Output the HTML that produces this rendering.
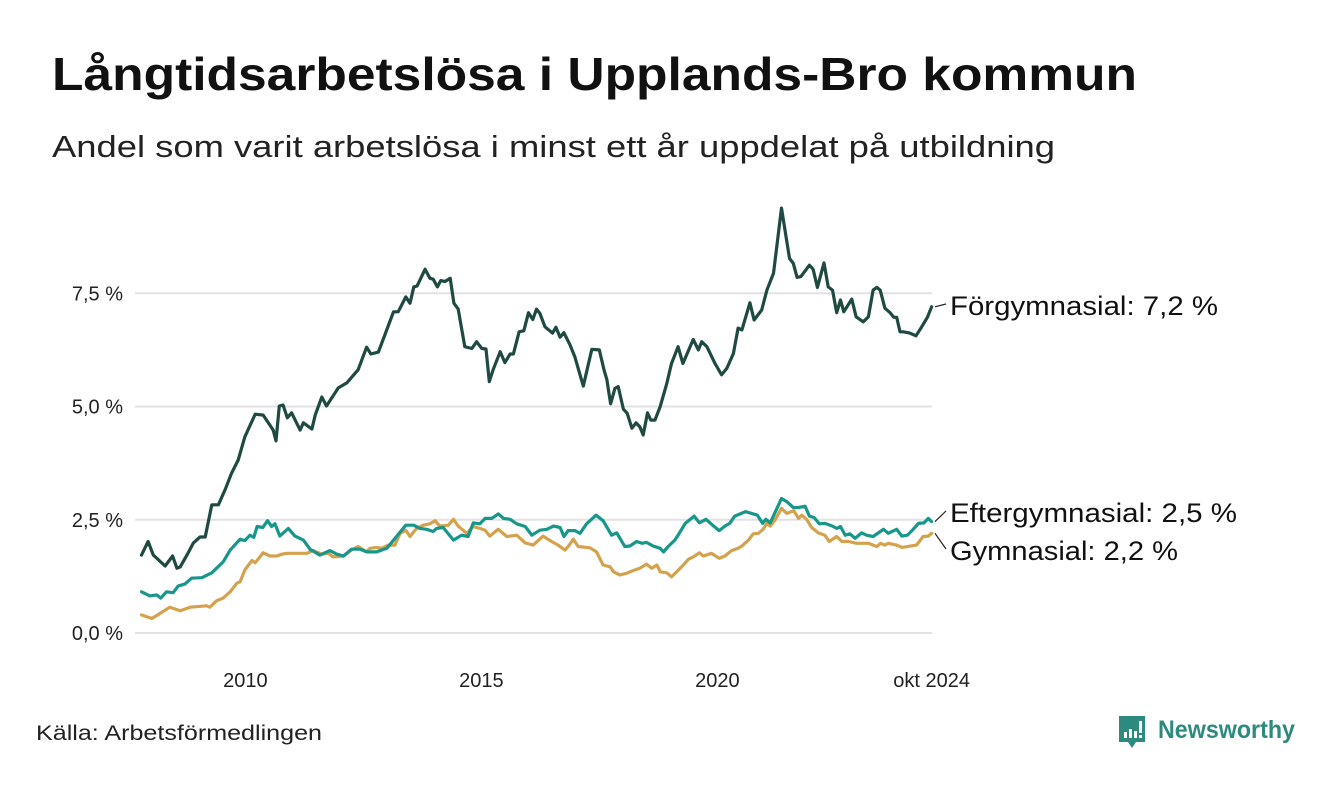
<!DOCTYPE html>
<html><head><meta charset="utf-8">
<style>
html,body{margin:0;padding:0;background:#fff;}
body{width:1340px;height:780px;overflow:hidden;font-family:"Liberation Sans",sans-serif;color:#111;}
</style></head>
<body>
<svg id="chart" width="1340" height="780" xmlns="http://www.w3.org/2000/svg">
<text x="52" y="90" font-size="46" font-weight="bold" fill="#111" textLength="1085" lengthAdjust="spacingAndGlyphs" font-family="Liberation Sans, sans-serif">Långtidsarbetslösa i Upplands-Bro kommun</text>
<text x="52" y="157" font-size="31" fill="#222" textLength="1003" lengthAdjust="spacingAndGlyphs" font-family="Liberation Sans, sans-serif">Andel som varit arbetslösa i minst ett år uppdelat på utbildning</text>
<g id="grid"></g>
<g id="yticks"></g>
<g id="xticks"></g>
<g id="series"></g>
<g id="labels"></g>
<text x="36" y="740" font-size="21" fill="#222" textLength="286" lengthAdjust="spacingAndGlyphs" font-family="Liberation Sans, sans-serif">Källa: Arbetsförmedlingen</text>
<g>
<path d="M1119 716 h26 v26 h-9 l-4 6 l-4 -6 h-9 z" fill="#2d8a7e"/>
<rect x="1124" y="732" width="3" height="6" fill="#fff"/>
<rect x="1129" y="729" width="3" height="9" fill="#fff"/>
<rect x="1134" y="731" width="3" height="7" fill="#fff"/>
<rect x="1139" y="721" width="3" height="12" fill="#fff"/>
<rect x="1139" y="735" width="3" height="3" fill="#fff"/>
<text x="1158" y="738" font-size="25" font-weight="bold" fill="#2d8a7e" textLength="137" lengthAdjust="spacingAndGlyphs" font-family="Liberation Sans, sans-serif">Newsworthy</text>
</g>
</svg>
<script>
const yTicks = [0, 2.5, 5, 7.5];
const yTickLabels = ["0,0 %", "2,5 %", "5,0 %", "7,5 %"];
const xTicks = [2010, 2015, 2020, 2024.75];
const xTickLabels = ["2010", "2015", "2020", "okt 2024"];

const forgymYears = [2008.01,2008.15,2008.26,2008.51,2008.67,2008.76,2008.83,2009.00,2009.11,2009.25,2009.36,2009.50,2009.64,2009.78,2009.92,2010.06,2010.20,2010.42,2010.59,2010.73,2010.80,2010.86,2010.93,2011.01,2011.10,2011.19,2011.37,2011.44,2011.62,2011.69,2011.83,2011.93,2012.18,2012.36,2012.60,2012.78,2012.87,2013.03,2013.35,2013.45,2013.61,2013.70,2013.78,2013.85,2014.02,2014.12,2014.19,2014.28,2014.35,2014.44,2014.55,2014.63,2014.72,2014.86,2015.01,2015.11,2015.22,2015.31,2015.38,2015.46,2015.61,2015.71,2015.82,2015.89,2016.01,2016.11,2016.21,2016.30,2016.38,2016.45,2016.56,2016.72,2016.79,2016.88,2016.96,2017.09,2017.19,2017.37,2017.55,2017.71,2017.81,2017.87,2017.95,2018.04,2018.11,2018.22,2018.30,2018.40,2018.49,2018.57,2018.64,2018.73,2018.80,2018.89,2019.00,2019.14,2019.24,2019.38,2019.48,2019.70,2019.81,2019.88,2019.99,2020.16,2020.30,2020.41,2020.55,2020.65,2020.73,2020.90,2020.99,2021.15,2021.26,2021.40,2021.57,2021.74,2021.82,2021.90,2021.98,2022.16,2022.24,2022.33,2022.47,2022.56,2022.65,2022.74,2022.82,2022.89,2023.06,2023.15,2023.30,2023.41,2023.51,2023.59,2023.66,2023.76,2023.87,2023.95,2024.01,2024.08,2024.15,2024.29,2024.42,2024.54,2024.66,2024.75];
const forgymValues = [1.72,2.02,1.72,1.48,1.70,1.43,1.46,1.77,1.99,2.12,2.12,2.83,2.83,3.16,3.53,3.82,4.33,4.83,4.81,4.59,4.48,4.24,5.01,5.03,4.75,4.86,4.48,4.64,4.50,4.81,5.21,5.01,5.41,5.52,5.81,6.31,6.16,6.20,7.09,7.09,7.42,7.28,7.64,7.66,8.03,7.83,7.81,7.64,7.78,7.76,7.83,7.28,7.15,6.32,6.28,6.43,6.28,6.27,5.55,5.81,6.21,5.97,6.16,6.16,6.65,6.67,7.07,6.92,7.15,7.06,6.76,6.62,6.75,6.53,6.63,6.36,6.10,5.45,6.26,6.25,5.81,5.59,5.06,5.40,5.44,4.94,4.85,4.52,4.64,4.55,4.37,4.86,4.70,4.70,5.00,5.51,5.95,6.32,5.95,6.48,6.25,6.43,6.32,5.95,5.70,5.84,6.17,6.73,6.69,7.29,6.91,7.13,7.57,7.94,9.38,8.27,8.16,7.85,7.87,8.12,8.03,7.63,8.17,7.64,7.57,7.07,7.35,7.09,7.37,6.98,6.87,6.98,7.57,7.63,7.57,7.17,7.07,6.97,6.97,6.65,6.65,6.62,6.56,6.76,6.97,7.20];

const efterYears = [2008.01,2008.19,2008.33,2008.42,2008.54,2008.68,2008.79,2008.93,2009.07,2009.29,2009.50,2009.74,2009.89,2010.10,2010.20,2010.31,2010.39,2010.46,2010.58,2010.68,2010.77,2010.84,2010.94,2011.12,2011.26,2011.44,2011.58,2011.79,2012.00,2012.15,2012.29,2012.46,2012.64,2012.78,2012.99,2013.21,2013.42,2013.61,2013.78,2013.91,2014.05,2014.19,2014.26,2014.40,2014.62,2014.79,2014.93,2015.04,2015.18,2015.29,2015.43,2015.57,2015.68,2015.82,2015.96,2016.14,2016.28,2016.45,2016.60,2016.74,2016.88,2016.96,2017.05,2017.19,2017.30,2017.44,2017.64,2017.79,2017.97,2018.08,2018.25,2018.36,2018.50,2018.61,2018.71,2018.85,2019.00,2019.07,2019.17,2019.31,2019.38,2019.53,2019.72,2019.83,2019.97,2020.11,2020.25,2020.37,2020.47,2020.58,2020.81,2021.06,2021.17,2021.24,2021.33,2021.57,2021.68,2021.82,2021.93,2022.07,2022.16,2022.26,2022.37,2022.49,2022.65,2022.74,2022.82,2022.92,2023.02,2023.13,2023.27,2023.37,2023.51,2023.73,2023.83,2024.01,2024.12,2024.24,2024.36,2024.47,2024.59,2024.68,2024.75];
const efterValues = [0.91,0.82,0.84,0.77,0.91,0.89,1.04,1.08,1.21,1.22,1.33,1.57,1.83,2.07,2.04,2.16,2.11,2.35,2.33,2.48,2.35,2.41,2.14,2.31,2.14,2.05,1.85,1.72,1.82,1.74,1.70,1.85,1.85,1.79,1.79,1.87,2.14,2.38,2.38,2.31,2.29,2.24,2.31,2.33,2.05,2.16,2.13,2.43,2.41,2.53,2.53,2.63,2.53,2.51,2.41,2.35,2.16,2.27,2.29,2.36,2.33,2.13,2.26,2.26,2.20,2.41,2.60,2.48,2.16,2.21,1.91,1.92,2.02,1.98,2.00,1.92,1.87,1.79,1.91,2.05,2.16,2.42,2.58,2.43,2.51,2.38,2.26,2.36,2.42,2.58,2.68,2.60,2.42,2.51,2.43,2.97,2.90,2.77,2.77,2.80,2.58,2.55,2.41,2.42,2.36,2.31,2.35,2.16,2.19,2.09,2.21,2.16,2.13,2.29,2.20,2.29,2.14,2.16,2.29,2.42,2.43,2.53,2.46];

const gymYears = [2008.01,2008.23,2008.40,2008.61,2008.83,2009.04,2009.39,2009.46,2009.60,2009.74,2009.89,2010.03,2010.10,2010.20,2010.35,2010.42,2010.59,2010.73,2010.88,2010.98,2011.09,2011.30,2011.51,2011.65,2011.83,2011.97,2012.07,2012.29,2012.46,2012.60,2012.78,2012.85,2012.99,2013.10,2013.24,2013.38,2013.49,2013.61,2013.70,2013.84,2013.98,2014.12,2014.23,2014.33,2014.51,2014.62,2014.72,2014.90,2015.04,2015.18,2015.29,2015.39,2015.57,2015.75,2015.96,2016.14,2016.31,2016.52,2016.70,2016.84,2016.98,2017.05,2017.16,2017.26,2017.51,2017.65,2017.79,2017.94,2018.01,2018.15,2018.29,2018.43,2018.57,2018.71,2018.82,2018.93,2019.00,2019.14,2019.24,2019.35,2019.49,2019.60,2019.70,2019.83,2019.91,2020.09,2020.25,2020.37,2020.51,2020.65,2020.73,2020.87,2020.97,2021.08,2021.18,2021.26,2021.33,2021.43,2021.57,2021.68,2021.83,2021.93,2022.00,2022.10,2022.21,2022.35,2022.49,2022.58,2022.74,2022.85,2022.99,2023.16,2023.41,2023.59,2023.67,2023.76,2023.83,2024.01,2024.12,2024.43,2024.57,2024.68,2024.75];
const gymValues = [0.40,0.32,0.43,0.57,0.49,0.57,0.60,0.57,0.71,0.77,0.91,1.10,1.13,1.39,1.60,1.55,1.77,1.70,1.70,1.74,1.76,1.76,1.76,1.82,1.74,1.76,1.68,1.70,1.83,1.91,1.79,1.87,1.89,1.87,1.94,1.94,2.20,2.27,2.13,2.31,2.38,2.41,2.48,2.36,2.38,2.51,2.36,2.20,2.35,2.31,2.27,2.14,2.29,2.13,2.16,1.99,1.94,2.14,2.02,1.94,1.83,1.91,2.07,1.91,1.88,1.79,1.50,1.46,1.35,1.28,1.32,1.38,1.43,1.52,1.43,1.50,1.35,1.33,1.24,1.35,1.50,1.63,1.68,1.77,1.70,1.76,1.65,1.70,1.82,1.87,1.92,2.05,2.19,2.20,2.29,2.42,2.36,2.49,2.75,2.64,2.70,2.53,2.60,2.51,2.33,2.21,2.16,2.02,2.13,2.02,2.02,1.98,1.98,1.91,1.98,1.94,1.98,1.94,1.89,1.94,2.13,2.14,2.20];

const seriesNames = ["Förgymnasial", "Eftergymnasial", "Gymnasial"];
const seriesLabels = ["Förgymnasial: 7,2 %", "Eftergymnasial: 2,5 %", "Gymnasial: 2,2 %"];

const NS = "http://www.w3.org/2000/svg";
const X0 = 141, PXYEAR = 47.2, Y0 = 633, PXPCT = 45.3;
function xs(t){ return X0 + (t - 2008) * PXYEAR; }
function ys(v){ return Y0 - v * PXPCT; }
function mk(tag, attrs, parent){ const e = document.createElementNS(NS, tag); for (const k in attrs) e.setAttribute(k, attrs[k]); parent.appendChild(e); return e; }

const grid = document.getElementById('grid');
const yt = document.getElementById('yticks');
yTicks.forEach((v, i) => {
  const l = mk('line', {x1: 135, x2: 932, y1: ys(v), y2: ys(v), stroke: '#e2e2e6', 'stroke-width': 2}, grid);
  
  
  const t = mk('text', {x: 123, y: ys(v) + 7, 'text-anchor': 'end', 'font-size': 20, fill: '#222', 'font-family': 'Liberation Sans, sans-serif'}, yt);
  t.textContent = yTickLabels[i];
  
  
});
const xt = document.getElementById('xticks');
xTicks.forEach((v, i) => {
  const t = mk('text', {x: xs(v) + (i === 3 ? 0 : 10), y: 687, 'text-anchor': 'middle', 'font-size': 20, fill: '#222', 'font-family': 'Liberation Sans, sans-serif'}, xt);
  t.textContent = xTickLabels[i];
  
  
});

const sg = document.getElementById('series');
const colors = ['#1f4a42', '#17968a', '#d4a24c'];
const allYears = [forgymYears, efterYears, gymYears];
const allValues = [forgymValues, efterValues, gymValues];
[2, 1, 0].forEach(si => {
  const d = allYears[si].map((t, j) => (j ? 'L' : 'M') + xs(t).toFixed(1) + ' ' + ys(allValues[si][j]).toFixed(1)).join(' ');
  const p = mk('path', {d: d, fill: 'none', stroke: colors[si], 'stroke-width': 3.2, 'stroke-linejoin': 'round', 'stroke-linecap': 'round'}, sg);
  
  
});

const lg = document.getElementById('labels');
const labelY = [306, 513, 551];
const labelW = [268, 287, 228];
allValues.forEach((vals, si) => {
  const lastY = ys(vals[vals.length - 1]);
  const ln = mk('line', {x1: 935, y1: lastY, x2: 946, y2: labelY[si] - 2, stroke: '#222', 'stroke-width': 1.2}, lg);
  
  
  const t = mk('text', {x: 950, y: labelY[si] + 9, 'font-size': 27, fill: '#111', textLength: labelW[si], lengthAdjust: 'spacingAndGlyphs', 'font-family': 'Liberation Sans, sans-serif'}, lg);
  t.textContent = seriesLabels[si];
  
  
});
</script>
</body></html>
